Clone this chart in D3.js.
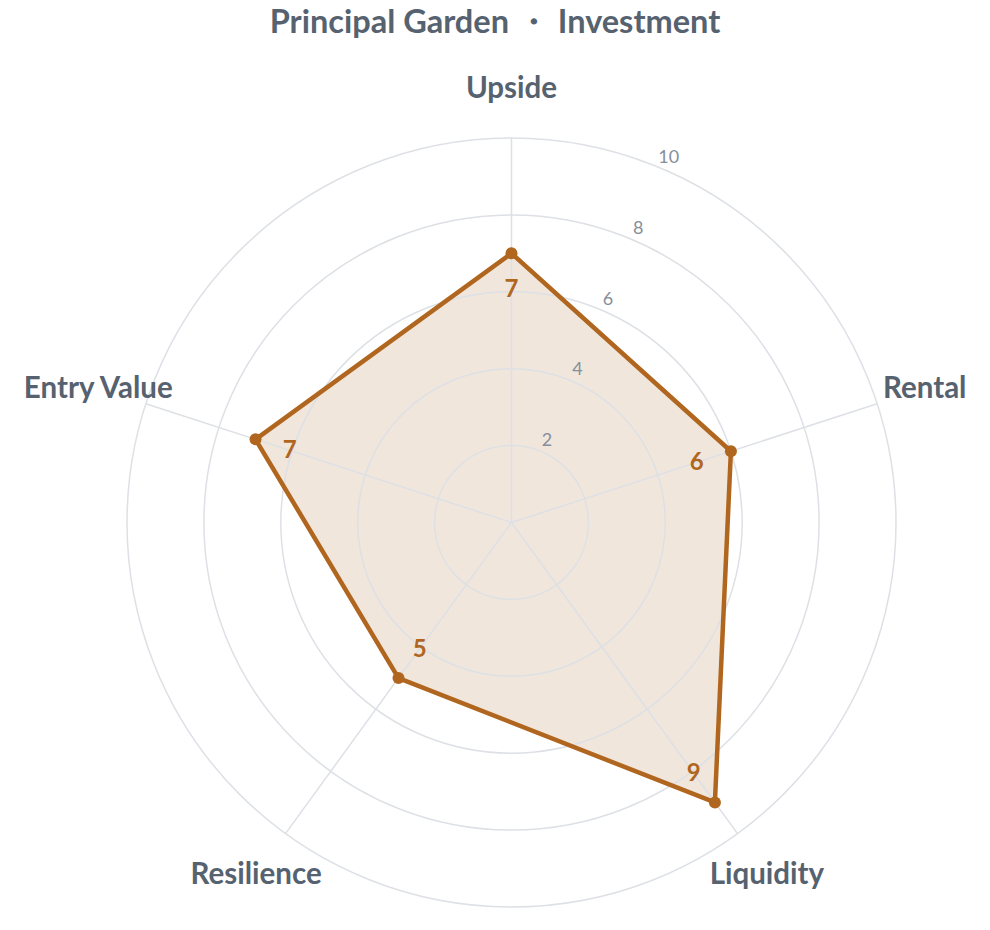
<!DOCTYPE html>
<html>
<head>
<meta charset="utf-8">
<script src="https://cdn.jsdelivr.net/npm/d3@7"></script>
<style>
    body { margin: 0; background: #fff; }
    svg text { font-family: "Source Sans Pro", "Lato", "Noto Sans", sans-serif; }
</style>
</head>
<body>
<svg width="990" height="930"></svg>
<script>
    var axes = ["Upside", "Rental", "Liquidity", "Resilience", "Entry Value"],
        scores = [7, 6, 9, 5, 7],
        ticks = [2, 4, 6, 8, 10],
        title = "Principal Garden \u30FB Investment";

    var svg = d3.select("svg"),
        cx = 511.5,
        cy = 522.5,
        radius = 384.5;

    var r = d3.scaleLinear().domain([0, 10]).range([0, radius]),
        angle = d3.scalePoint().domain(axes).range([0, 2 * Math.PI * 4 / 5]);

    function px(a, d) { return Math.sin(a) * d; }
    function py(a, d) { return -Math.cos(a) * d; }

    svg.append("text")
        .attr("x", 495)
        .attr("y", 33)
        .attr("text-anchor", "middle")
        .style("font-size", "32.5px")
        .style("font-weight", "bold")
        .style("fill", "#56626f")
        .text(title);

    var g = svg.append("g")
        .attr("transform", "translate(" + cx + "," + cy + ")");

    var data = axes.map(function(a, i) { return { axis: a, value: scores[i] }; });

    var line = d3.lineRadial()
        .angle(function(d) { return angle(d.axis); })
        .radius(function(d) { return r(d.value); })
        .curve(d3.curveLinearClosed);

    // filled area under the grid
    g.append("path")
        .datum(data)
        .attr("d", line)
        .style("fill", "#f0e6dc")
        .style("stroke", "none");

    // rings
    g.selectAll(".ring")
        .data(ticks)
        .enter().append("circle")
        .attr("class", "ring")
        .attr("r", function(d) { return r(d); })
        .style("fill", "none")
        .style("stroke", "#dde0e5")
        .style("stroke-width", 1.5);

    // spokes
    g.selectAll(".spoke")
        .data(axes)
        .enter().append("line")
        .attr("class", "spoke")
        .attr("x1", 0).attr("y1", 0)
        .attr("x2", function(d) { return px(angle(d), radius); })
        .attr("y2", function(d) { return py(angle(d), radius); })
        .style("stroke", "#dde0e5")
        .style("stroke-width", 1.5);

    // tick labels
    var tickAngle = 23.3 * Math.PI / 180;
    g.selectAll(".tick-label")
        .data(ticks)
        .enter().append("text")
        .attr("class", "tick-label")
        .attr("x", function(d) { return px(tickAngle, r(d) + 13); })
        .attr("y", function(d) { return py(tickAngle, r(d) + 13) + 6; })
        .attr("text-anchor", "middle")
        .style("font-size", "18px")
        .style("fill", "#868f9b")
        .text(function(d) { return d; });

    g.append("path")
        .datum(data)
        .attr("d", line)
        .style("fill", "none")
        .style("stroke", "#b0661e")
        .style("stroke-width", 4.5)
        .style("stroke-linejoin", "round");

    g.selectAll(".dot")
        .data(data)
        .enter().append("circle")
        .attr("class", "dot")
        .attr("cx", function(d) { return px(angle(d.axis), r(d.value)); })
        .attr("cy", function(d) { return py(angle(d.axis), r(d.value)); })
        .attr("r", 6)
        .style("fill", "#b0661e");

    g.selectAll(".value-label")
        .data(data)
        .enter().append("text")
        .attr("class", "value-label")
        .attr("x", function(d) { return px(angle(d.axis), r(d.value) - 36); })
        .attr("y", function(d) { return py(angle(d.axis), r(d.value) - 36) + 8; })
        .attr("text-anchor", "middle")
        .style("font-size", "24px")
        .style("font-weight", "bold")
        .style("fill", "#b0661e")
        .text(function(d) { return d.value; });

    g.selectAll(".axis-label")
        .data(axes)
        .enter().append("text")
        .attr("class", "axis-label")
        .attr("x", function(d) { return px(angle(d), radius + 50); })
        .attr("y", function(d) { return py(angle(d), radius + 50) + 10; })
        .attr("text-anchor", "middle")
        .style("font-size", "29.5px")
        .style("font-weight", "bold")
        .style("fill", "#56626f")
        .text(function(d) { return d; });
</script>
</body>
</html>
